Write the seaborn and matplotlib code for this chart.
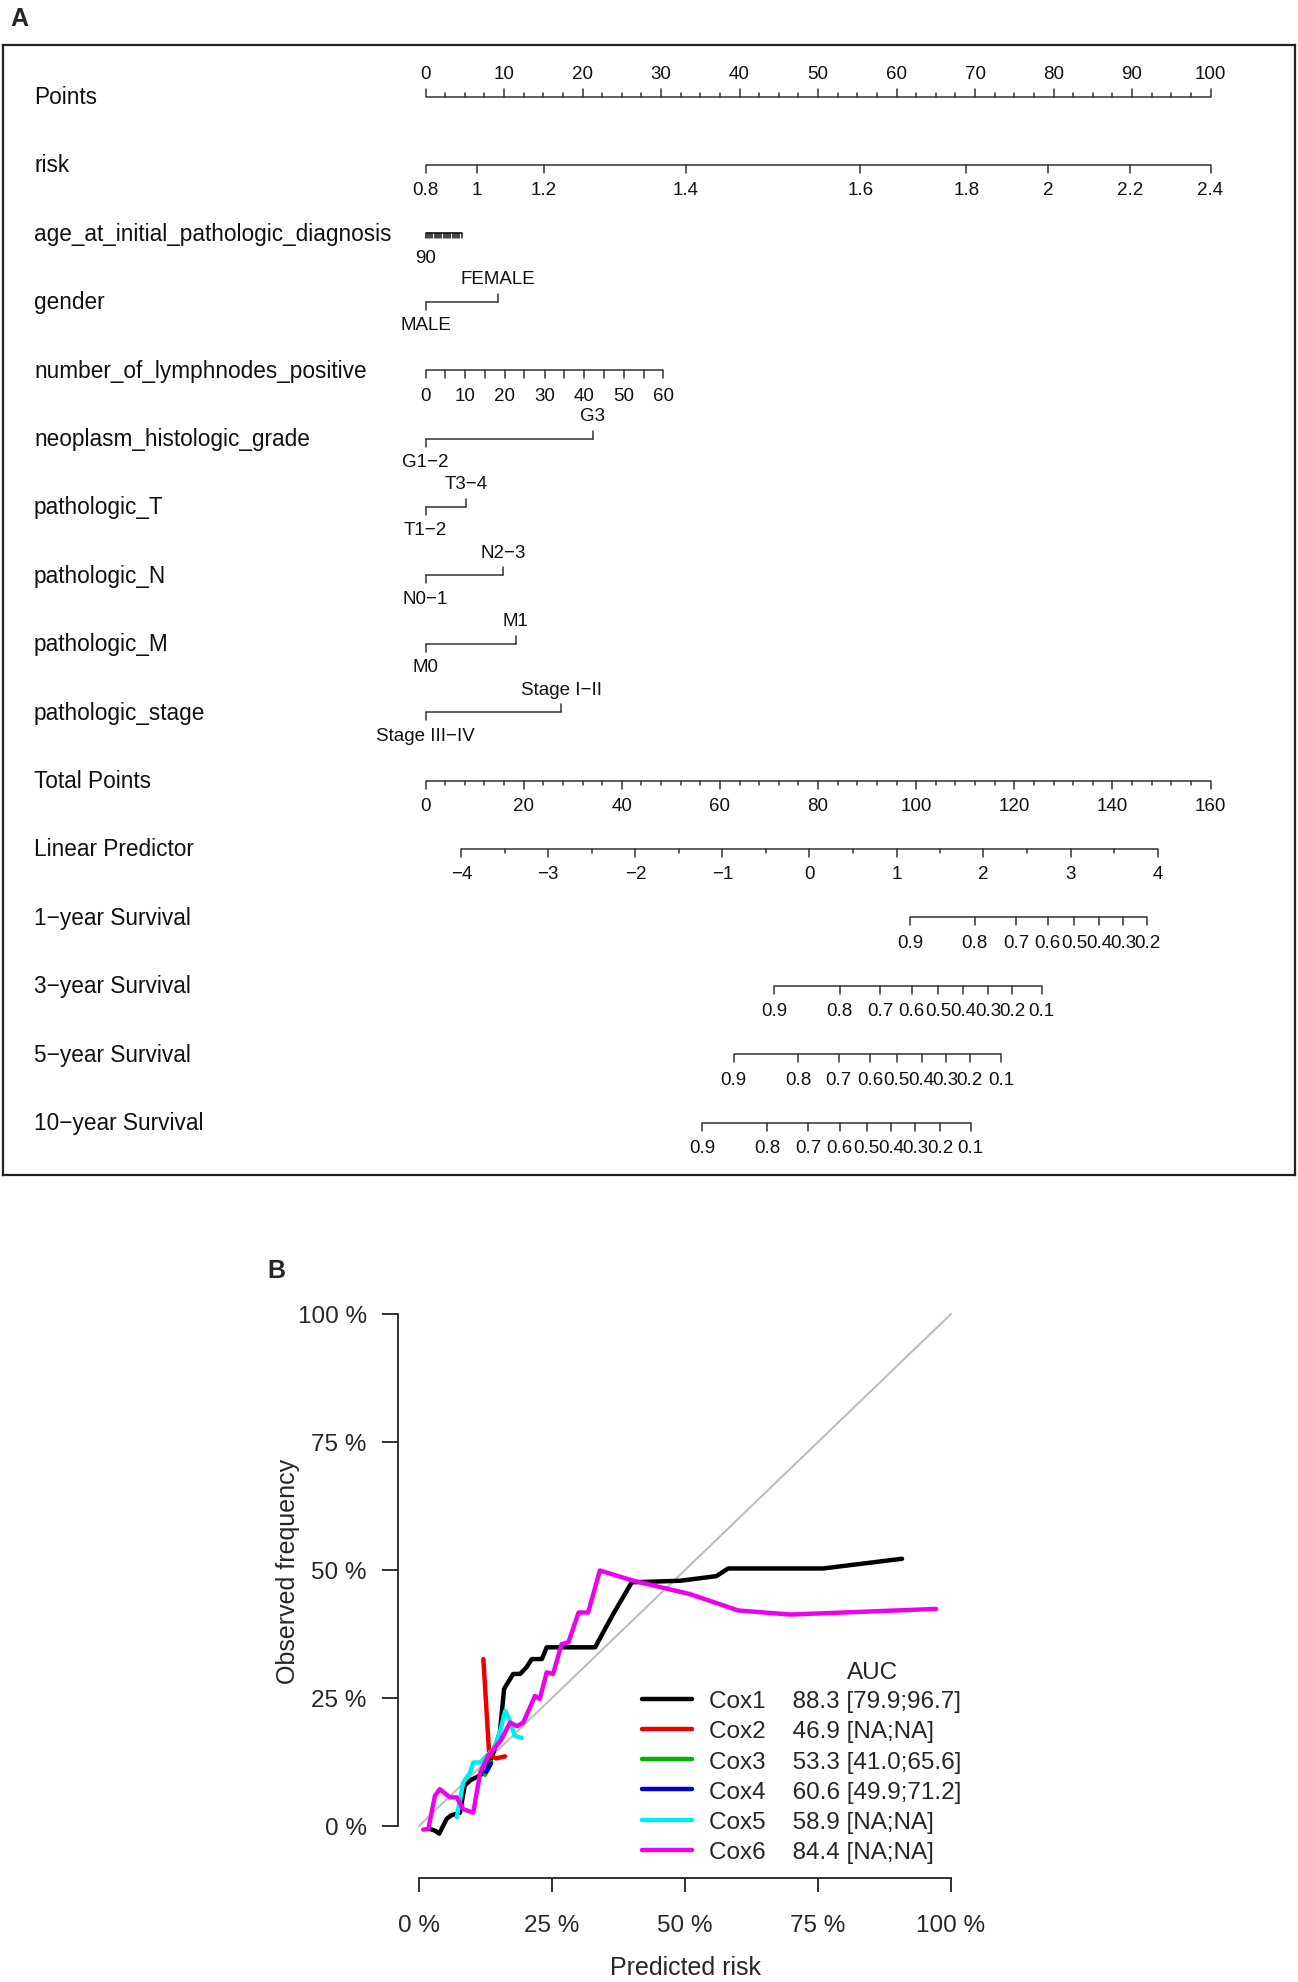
import numpy as np
import pandas as pd
import matplotlib
matplotlib.use("Agg")
import matplotlib.pyplot as plt
import matplotlib.transforms as mtransforms
import seaborn as sns

# ================= datos panel A: nomograma =================
points_major = [0, 10, 20, 30, 40, 50, 60, 70, 80, 90, 100]
points_minor = [2.5, 5, 7.5, 12.5, 15, 17.5, 22.5, 25, 27.5, 32.5, 35, 37.5,
                42.5, 45, 47.5, 52.5, 55, 57.5, 62.5, 65, 67.5, 72.5, 75, 77.5,
                82.5, 85, 87.5, 92.5, 95, 97.5]

risk_values = ["0.8", "1", "1.2", "1.4", "1.6", "1.8", "2", "2.2", "2.4"]
risk_points = [0, 6.5, 15.1, 33.2, 55.4, 68.9, 79.3, 89.7, 100]

age_values = [90, 85, 80, 75, 70, 65, 60, 55, 50, 45, 40, 35, 30, 25, 20, 15, 10]
age_points = [0, 0.29, 0.58, 0.86, 1.15, 1.44, 1.73, 2.01, 2.3, 2.59, 2.88,
              3.16, 3.45, 3.74, 4.03, 4.31, 4.6]

gender_levels = ["MALE", "FEMALE"]
gender_points = [0, 9.2]

lymph_values = [0, 5, 10, 15, 20, 25, 30, 35, 40, 45, 50, 55, 60]
lymph_points = [0, 2.5, 5.05, 7.6, 10.1, 12.6, 15.2, 17.7, 20.2, 22.7, 25.3, 27.8, 30.3]

grade_levels = ["G1\u22122", "G3"]
grade_points = [0, 21.3]
t_levels = ["T1\u22122", "T3\u22124"]
t_points = [0, 5.2]
n_levels = ["N0\u22121", "N2\u22123"]
n_points = [0, 9.9]
m_levels = ["M0", "M1"]
m_points = [0, 11.5]
stage_levels = ["Stage III\u2212IV", "Stage I\u2212II"]
stage_points = [0, 17.3]

total_major = [0, 20, 40, 60, 80, 100, 120, 140, 160]
total_minor = [4, 8, 12, 16, 24, 28, 32, 36, 44, 48, 52, 56, 64, 68, 72, 76,
               84, 88, 92, 96, 104, 108, 112, 116, 124, 128, 132, 136, 144,
               148, 152, 156]

lp_values = ["\u22124", "\u22123", "\u22122", "\u22121", "0", "1", "2", "3", "4"]
lp_total = [7.3, 25.0, 42.8, 60.5, 78.2, 96.0, 113.7, 131.5, 149.2]
lp_minor_total = [16.2, 33.9, 51.7, 69.4, 87.1, 104.9, 122.6, 140.4]

surv_values = ["0.9", "0.8", "0.7", "0.6", "0.5", "0.4", "0.3", "0.2", "0.1"]
surv1_total = [98.8, 111.9, 120.4, 126.8, 132.2, 137.3, 142.2, 147.1]
surv3_total = [71.1, 84.4, 92.7, 99.1, 104.5, 109.6, 114.7, 119.6, 125.6]
surv5_total = [62.8, 75.9, 84.2, 90.6, 96.0, 101.1, 106.0, 110.9, 117.3]
surv10_total = [56.4, 69.7, 78.0, 84.4, 89.9, 94.9, 99.8, 104.9, 111.1]

row_names = ["Points", "risk", "age_at_initial_pathologic_diagnosis", "gender",
             "number_of_lymphnodes_positive", "neoplasm_histologic_grade",
             "pathologic_T", "pathologic_N", "pathologic_M", "pathologic_stage",
             "Total Points", "Linear Predictor", "1\u2212year Survival",
             "3\u2212year Survival", "5\u2212year Survival", "10\u2212year Survival"]

# ================= datos panel B: calibracion =================
models = ["Cox1", "Cox2", "Cox3", "Cox4", "Cox5", "Cox6"]
auc_text = ["88.3 [79.9;96.7]", "46.9 [NA;NA]", "53.3 [41.0;65.6]",
            "60.6 [49.9;71.2]", "58.9 [NA;NA]", "84.4 [NA;NA]"]
model_colors = ["black", "#EE0000", "#00B400", "#0000CC", "#00EEEE", "#EE00EE"]

cox1_x = [2.1, 3.0, 3.8, 5.2, 6.1, 7.7, 8.6, 9.6, 11.5, 12.7, 14.0, 15.2, 16.0,
          17.7, 19.0, 20.2, 21.2, 23.1, 24.0, 33.1, 36.5, 40.0, 49.1, 55.9,
          58.1, 76.0, 90.8]
cox1_y = [-0.6, -0.9, -1.5, 1.4, 2.1, 2.6, 7.9, 8.9, 9.9, 10.8, 14.4, 18.3, 26.8,
          29.7, 29.7, 31.0, 32.6, 32.6, 34.9, 34.9, 41.4, 47.6, 47.9, 48.8,
          50.3, 50.3, 52.2]
cox2_x = [12.1, 13.2, 14.5, 16.2]
cox2_y = [32.6, 13.9, 13.2, 13.6]
cox3_x = [12.4, 13.0, 13.6]
cox3_y = [10.0, 11.2, 12.5]
cox4_x = [12.6, 13.1, 13.5]
cox4_y = [10.6, 11.4, 12.2]
cox5_x = [7.1, 8.3, 9.6, 10.2, 11.5, 12.7, 14.0, 15.2, 16.2, 17.1, 18.0, 19.3]
cox5_y = [1.7, 8.5, 10.4, 12.4, 12.4, 13.7, 15.0, 18.3, 22.5, 20.5, 17.6, 17.2]
cox6_x = [0.8, 1.75, 3.0, 3.9, 5.8, 7.1, 8.3, 10.2, 11.5, 13.0, 14.3, 15.5, 17.1,
          18.4, 19.6, 21.8, 22.7, 24.0, 25.2, 26.8, 28.1, 30.0, 31.8, 34.0,
          40.3, 50.9, 60.0, 69.8, 97.2]
cox6_y = [-0.7, -0.6, 5.9, 7.2, 5.6, 5.6, 3.3, 2.6, 10.4, 13.7, 15.3, 16.9, 20.2,
          19.5, 20.2, 25.4, 24.8, 30.0, 29.7, 35.5, 35.9, 41.7, 41.7, 49.9,
          47.9, 45.3, 42.1, 41.3, 42.4]

# ================= figura =================
sns.set_style("white")
plt.rcParams['font.family'] = ['Liberation Sans', 'DejaVu Sans']

W, H = 1298, 1983
fig = plt.figure(figsize=(W / 100, H / 100), dpi=100)

# ---------- panel A ----------
box_l, box_r, box_t, box_b = 3, 1295, 46, 1176
axA = fig.add_axes([box_l / W, 1 - box_b / H, (box_r - box_l) / W, (box_b - box_t) / H])
px_pt = 7.85          # pixeles por punto del nomograma
x0_px = 425.5         # pixel del 0 de Points
row0_px, row_dy = 97.5, 68.4
axA.set_xlim((box_l - x0_px) / px_pt, (box_r - x0_px) / px_pt)
axA.set_ylim((box_b - row0_px) / row_dy, (box_t - row0_px) / row_dy)
axA.set_xticks([])
axA.set_yticks([])
for s in axA.spines.values():
    s.set_visible(True)
    s.set_color("#222222")
    s.set_linewidth(1.6)

PX = 1.0 / row_dy     # una unidad de pixel en filas
LC = "#333333"
LW = 1.1
TICK_FS = 13.5
ROW_FS = 16.3


def scale_row(row, pos, labels, side=1, major_len=8, minor=None, minor_len=4,
              label_off=25, label_pos=None, lc=LC):
    # side=1 marcas hacia abajo, side=-1 hacia arriba
    lo, hi = min(pos + (minor or [])), max(pos + (minor or []))
    axA.plot([lo, hi], [row, row], color=lc, lw=LW, solid_capstyle="butt")
    for p in pos:
        axA.plot([p, p], [row, row + side * major_len * PX], color=lc, lw=LW)
    for p in (minor or []):
        axA.plot([p, p], [row, row + side * minor_len * PX], color=lc, lw=LW)
    lp = pos if label_pos is None else label_pos
    for p, lab in zip(lp, labels):
        axA.text(p, row + side * label_off * PX, lab, ha="center", va="center",
                 fontsize=TICK_FS, color="#111111")


def cat_row(row, pos, levels):
    axA.plot([min(pos), max(pos)], [row, row], color=LC, lw=LW)
    for k, (p, lab) in enumerate(zip(pos, levels)):
        side = 1 if k % 2 == 0 else -1
        axA.plot([p, p], [row, row + side * 8 * PX], color=LC, lw=LW)
        axA.text(p, row + side * 23 * PX, lab, ha="center", va="center",
                 fontsize=TICK_FS, color="#111111")


def tp(vals):
    # total points -> escala de Points
    return [v * 100.0 / 160.0 for v in vals]


scale_row(0, points_major, [str(v) for v in points_major], side=-1,
          minor=points_minor, label_off=23)
scale_row(1, risk_points, risk_values)
# edad: peine denso, solo se lee "90"
scale_row(2, age_points, ["90"] + [""] * (len(age_points) - 1), major_len=5,
          label_off=24, lc="#111111")
cat_row(3, gender_points, gender_levels)
scale_row(4, lymph_points[::2], [str(v) for v in lymph_values[::2]],
          minor=lymph_points[1::2], minor_len=8)
cat_row(5, grade_points, grade_levels)
cat_row(6, t_points, t_levels)
cat_row(7, n_points, n_levels)
cat_row(8, m_points, m_levels)
cat_row(9, stage_points, stage_levels)
scale_row(10, tp(total_major), [str(v) for v in total_major], minor=tp(total_minor))
scale_row(11, tp(lp_total), lp_values, minor=tp(lp_minor_total))
scale_row(12, tp(surv1_total), surv_values[:len(surv1_total)])
scale_row(13, tp(surv3_total), surv_values)
scale_row(14, tp(surv5_total), surv_values)
scale_row(15, tp(surv10_total), surv_values)

lab_tr = mtransforms.blended_transform_factory(axA.transAxes, axA.transData)
for i, name in enumerate(row_names):
    axA.text((34 - box_l) / (box_r - box_l), i, name, transform=lab_tr,
             ha="left", va="center", fontsize=ROW_FS, color="#111111")

fig.text(19 / W, 1 - 19 / H, "A", fontsize=18, fontweight="bold",
         ha="center", va="center")

# ---------- panel B ----------
x0, x1, y0, y1 = 419, 951, 1827, 1315
axB = fig.add_axes([x0 / W, 1 - y0 / H, (x1 - x0) / W, (y0 - y1) / H])
axB.set_xlim(0, 100)
axB.set_ylim(0, 100)

axB.plot([0, 100], [0, 100], color="#BEBEBE", lw=1.5, zorder=1)

frames = []
for name, xs, ys in zip(models, [cox1_x, cox2_x, cox3_x, cox4_x, cox5_x, cox6_x],
                        [cox1_y, cox2_y, cox3_y, cox4_y, cox5_y, cox6_y]):
    frames.append(pd.DataFrame({"risk": xs, "obs": ys, "model": name}))
calib = pd.concat(frames, ignore_index=True)

sns.lineplot(data=calib, x="risk", y="obs", hue="model", hue_order=models,
             palette=model_colors, sort=False, estimator=None, lw=3.2,
             legend=False, ax=axB, zorder=3)
for ln in axB.get_lines():
    ln.set_clip_on(False)
    ln.set_solid_joinstyle("round")
    ln.set_solid_capstyle("round")

sns.despine(ax=axB)
axB.spines["left"].set_position(("outward", 15.1))
axB.spines["bottom"].set_position(("outward", 37.4))
axB.spines["left"].set_bounds(0, 100)
axB.spines["bottom"].set_bounds(0, 100)
for s in ["left", "bottom"]:
    axB.spines[s].set_color("#222222")
    axB.spines[s].set_linewidth(1.3)

ticks = [0, 25, 50, 75, 100]
tick_labels = ["0 %", "25 %", "50 %", "75 %", "100 %"]
axB.set_xticks(ticks)
axB.set_xticklabels(tick_labels)
axB.set_yticks(ticks)
axB.set_yticklabels(tick_labels)
axB.tick_params(axis="y", length=11.5, width=1.3, pad=11, labelsize=17.5,
                color="#222222", left=True)
axB.tick_params(axis="x", length=10, width=1.3, pad=16, labelsize=17.5,
                color="#222222", bottom=True)

axB.set_xlabel("Predicted risk", fontsize=18)
axB.set_ylabel("Observed frequency", fontsize=18)
axB.xaxis.set_label_coords(0.5, (y0 - 1968) / (y0 - y1))
axB.xaxis.label.set_va("center")
axB.yaxis.set_label_coords((288 - x0) / (x1 - x0), 0.5)
axB.yaxis.label.set_va("center")

handles = axB.get_lines()[1:7]
labels = [f"{m}    {a}" for m, a in zip(models, auc_text)]
axB.legend(handles, labels, loc="upper left", frameon=False, fontsize=17.5,
           bbox_to_anchor=((642 - x0) / (x1 - x0), (y0 - 1691) / (y0 - y1)),
           borderpad=0, borderaxespad=0, handlelength=2.05, handletextpad=0.7,
           labelspacing=0.34)
axB.text((873 - x0) / (x1 - x0), (y0 - 1673) / (y0 - y1), "AUC",
         transform=axB.transAxes, ha="center", va="center", fontsize=17.5)

fig.text(276 / W, 1 - 1271 / H, "B", fontsize=18, fontweight="bold",
         ha="center", va="center")

fig.savefig("out.png", dpi=100)
plt.close(fig)
